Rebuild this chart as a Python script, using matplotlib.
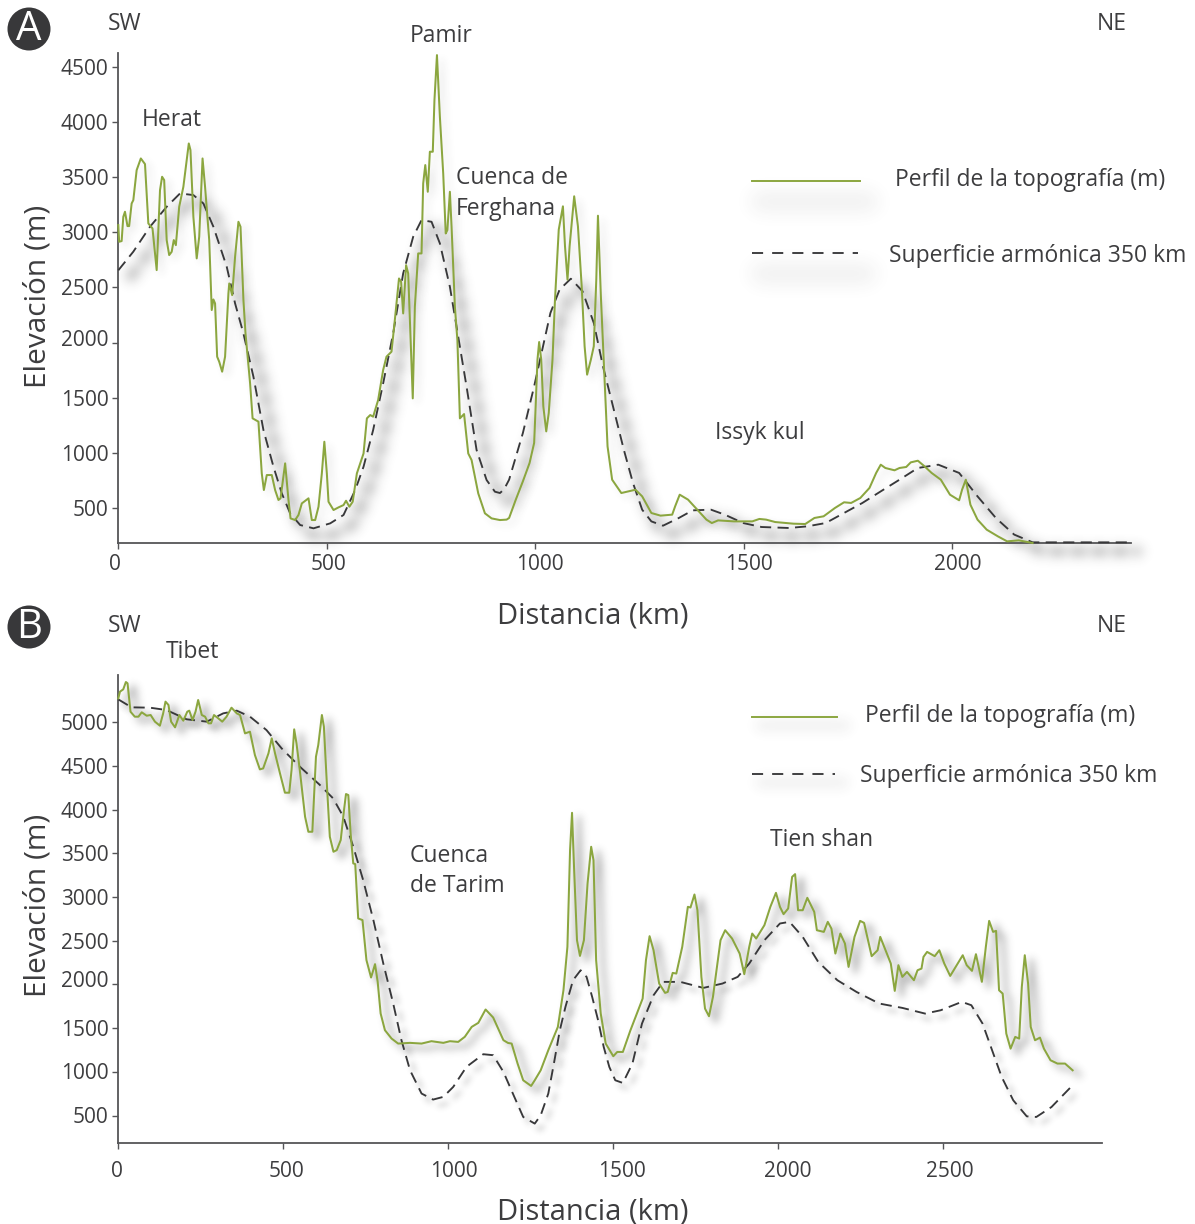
import matplotlib
matplotlib.use("Agg")
import numpy as np
import matplotlib.pyplot as plt
from matplotlib.lines import Line2D
from matplotlib.patches import Ellipse
from matplotlib.transforms import ScaledTranslation

plt.rcParams['font.family'] = ['Open Sans', 'DejaVu Sans']
plt.rcParams['lines.scale_dashes'] = False

W, H = 1195, 1224
INK = '#3d3d3f'
GREEN = '#8ba63f'
DASH = '#38383a'

# Panel A: topography
a_topo_km = [0,2,8,12,16,22,26,32,36,44,54,64,72,82,92,100,105,110,116,122,128,133,138,146,156,169,173,180,188,194,202,208,213,218,224,228,232,237,242,249,256,264,266,273,280,288,293,300,305,316,322,336,344,349,356,368,376,384,389,400,408,413,424,432,440,456,464,472,480,488,494,500,504,516,528,540,546,554,562,572,588,596,604,611,623,635,643,655,663,673,678,683,690,695,706,711,719,727,731,736,742,747,754,758,764,771,779,785,789,795,799,807,813,819,829,839,847,863,879,895,915,
             931,937,953,970,986,997,1000,1005,1009,1014,1019,1026,1032,1041,1047,1056,1066,1071,1077,1082,1093,1102,1111,1118,1124,1133,1140,1146,1150,1157,1166,1173,1184,1206,1223,1240,1256,1278,1300,1328,1335,1346,1366,1388,1410,1423,1438,1476,1520,1537,1553,1575,1619,1647,1669,1691,1718,1740,1757,1779,1801,1817,1828,1839,1861,1873,1889,1900,1917,1933,1950,1972,1994,2016,2023,2032,2043,2060,2082,2109,2131,2159,2192]
a_topo_m = [3065,2914,2920,3140,3186,3056,3056,3261,3291,3563,3669,3618,3080,3035,2657,3382,3503,3473,2929,2793,2823,2929,2883,3231,3412,3805,3745,3140,2763,2960,3669,3412,3170,2929,2295,2391,2355,1872,1826,1736,1872,2445,2536,2430,2778,3095,3050,2385,2083,1630,1313,1283,814,663,799,799,663,573,588,905,573,406,391,437,542,588,391,391,512,814,1101,814,557,482,506,527,566,512,557,814,995,1313,1343,1328,1479,1751,1872,1917,2204,2581,2551,2264,2702,2627,1494,2325,2808,2808,3443,3609,3367,3730,3730,4198,4606,4047,3533,2989,3020,3367,3050,2325,2022,1313,1352,995,935,633,452,406,391,
            395,410,576,742,908,1090,1362,1845,2005,1845,1422,1195,1362,1845,2389,3024,3235,2872,2570,2872,3326,3054,2510,1966,1709,1845,1966,2570,3150,2419,1664,1059,757,636,651,666,606,455,431,440,515,621,576,485,395,364,388,379,379,401,395,373,358,355,410,425,500,552,546,591,682,818,893,863,842,863,872,914,929,878,818,757,621,570,666,757,530,395,304,243,198,207,183]

# Panel A: harmonic surface
a_harm_km = [0,36,76,116,148,180,204,228,260,280,300,324,348,372,392,412,436,468,508,540,568,588,611,635,659,683,707,727,751,771,795,815,835,859,883,903,915,925,
             937,970,997,1036,1058,1085,1113,1140,1162,1190,1212,1234,1256,1278,1306,1344,1377,1421,1454,1498,1542,1608,1652,1696,1740,1784,1828,1873,1917,1966,2016,2060,2104,2148,2192,2428]
a_harm_m = [2655,2824,3050,3231,3352,3337,3261,3050,2687,2355,2083,1690,1207,875,633,452,346,316,361,437,663,875,1207,1630,2083,2627,2959,3110,3095,2899,2506,2053,1600,1026,754,648,636,670,
            757,1180,1603,2268,2480,2579,2465,2178,1785,1362,1029,727,485,379,340,410,479,485,440,364,328,319,334,364,455,546,651,757,863,893,818,606,410,259,189,189]

# Panel B: topography
b_topo_km = [0,5,15,23,28,37,50,61,71,86,98,111,126,136,143,152,160,172,185,197,209,215,225,234,242,253,263,273,281,290,303,315,328,343,359,369,384,399,414,429,439,455,465,475,490,505,518,525,533,540,550,566,576,588,599,606,617,623,633,641,652,662,674,684,690,697,704,712,718,727,740,752,766,778,786,795,808,828,848,884,919,949,985,1005,1030,1050,1071,1091,1113,1136,1167,
             1181,1192,1210,1227,1251,1262,1280,1303,1332,1349,1361,1369,1375,1381,1390,1399,1411,1422,1433,1440,1448,1462,1477,1500,1512,1529,1552,1589,1599,1610,1622,1639,1657,1665,1680,1691,1709,1726,1734,1746,1755,1767,1778,1790,1802,1825,1839,1860,1883,1897,1912,1921,1933,1958,1976,1993,2005,2016,2030,2042,2051,2060,2074,2088,2109,2117,2138,2150,2161,2173,2188,2202,2213,2231,2248,2260,2283,2301,2309,2329,2341,2353,2364,2376,2390,2411,2422,2434,2440,2451,2474,2488,2503,2521,2544,2559,2571,2587,2599,2617,2629,2639,2651,2660,2669,2680,2691,2704,2718,2730,2738,2747,2757,2765,2778,2793,2805,2825,2846,2869,2892]
b_topo_m = [5275,5351,5378,5462,5447,5122,5065,5065,5115,5076,5084,5008,4962,5103,5237,5199,5008,4943,5084,5019,5122,5134,5027,5122,5256,5084,5065,4989,4989,5084,5046,5008,5065,5168,5103,5084,4874,4893,4626,4462,4473,4645,4817,4645,4416,4195,4195,4454,4920,4760,4454,3920,3748,3748,4607,4741,5084,4951,4225,3691,3519,3538,3653,3996,4180,4168,3729,3386,3378,2756,2737,2279,2080,2233,2031,1668,1477,1382,1324,1332,1324,1351,1332,1351,1343,1401,1515,1561,1714,1622,1363,
            1331,1324,1095,904,839,904,1018,1247,1514,1934,2431,3537,3965,3347,2507,2327,2507,3156,3576,3423,2278,1667,1324,1179,1228,1228,1476,1839,2278,2553,2392,2011,1904,1915,2133,2125,2431,2889,2881,3030,2850,2087,1724,1637,1858,2507,2621,2526,2354,2118,2431,2583,2526,2679,2889,3049,2889,2805,2870,3232,3263,2850,2850,2992,2831,2621,2602,2717,2640,2354,2583,2469,2201,2545,2728,2705,2324,2392,2545,2354,2240,1927,2221,2087,2144,2049,2163,2182,2316,2373,2324,2392,2240,2098,2240,2335,2221,2156,2347,2030,2431,2728,2602,2614,1934,1896,1438,1266,1400,1381,1972,2335,2011,1514,1362,1392,1266,1133,1095,1095,1018]

# Panel B: harmonic surface
b_harm_km = [0,40,96,146,207,268,318,359,399,449,495,550,611,651,682,712,742,773,803,833,858,884,919,954,985,1015,1055,1106,1136,1167,
             1198,1227,1262,1280,1303,1320,1338,1355,1378,1401,1419,1436,1454,1471,1488,1506,1529,1558,1587,1622,1651,1703,1773,1831,1877,1912,1958,2005,2034,2074,2121,2179,2237,2306,2376,2445,2492,2556,2585,2619,2648,2677,2712,2753,2782,2828,2892]
b_harm_m = [5263,5172,5168,5141,5035,5008,5103,5134,5065,4912,4702,4493,4283,4130,3920,3577,3195,2737,2241,1783,1363,1019,752,683,714,828,1057,1202,1191,1000,
            732,484,408,503,751,1095,1476,1743,2049,2163,2087,1858,1591,1285,1056,904,873,1095,1553,1877,2030,2030,1961,2011,2087,2240,2507,2698,2717,2545,2259,2049,1915,1782,1732,1667,1705,1801,1763,1553,1247,942,675,491,484,598,847]

a_xticks = [0, 500, 1000, 1500, 2000]
a_yticks = [500, 1000, 1500, 2000, 2500, 3000, 3500, 4000, 4500]
b_xticks = [0, 500, 1000, 1500, 2000, 2500]
b_yticks = [500, 1000, 1500, 2000, 2500, 3000, 3500, 4000, 4500, 5000]

xlabel = 'Distancia (km)'
ylabel = 'Elevación (m)'
legend_topo = 'Perfil de la topografía (m)'
legend_harm = 'Superficie armónica 350 km'

fig = plt.figure(figsize=(W / 100, H / 100), dpi=100, facecolor='white')


def axes_px(left, right, top, bottom):
    return fig.add_axes([left / W, 1 - bottom / H, (right - left) / W, (bottom - top) / H])


def fx(p):
    return p / W


def fy(p):
    return 1 - p / H


def txt(x, y, s, size=16.5, ha='left', **kw):
    fig.text(fx(x), fy(y + 1.5), s, fontsize=size, ha=ha, va='center', color=INK, **kw)


def blur_filter(sigma, dx, dy, gain, grey=0.25):
    """Soft drop shadow: blurs the drawn line's coverage and shifts it."""
    r = int(3 * sigma) + 1
    k = np.exp(-0.5 * (np.arange(-r, r + 1) / sigma) ** 2)
    k /= k.sum()

    def apply(im, dpi):
        a = np.pad(im[..., 3], r, mode='constant')
        a = np.apply_along_axis(lambda v: np.convolve(v, k, mode='same'), 0, a)
        a = np.apply_along_axis(lambda v: np.convolve(v, k, mode='same'), 1, a)
        out = np.full(a.shape + (4,), grey, dtype=float)
        out[..., 3] = np.clip(a * gain, 0, 1)
        return out, -r + dx, -r - dy
    return apply


DASHES = (0, (8, 4.6))
KEY_DASHES = (0, (8, 6.5))


def with_shadow(ax, x, y, color, ls, lw, shadow_ls, shadow_lw, flt):
    sh, = ax.plot(x, y, color='black', lw=shadow_lw, ls=shadow_ls, zorder=1, clip_on=False)
    sh.set_agg_filter(flt)
    ax.plot(x, y, color=color, lw=lw, ls=ls, zorder=3, clip_on=False, solid_joinstyle='round')


def style(ax, xt, yt, x_off, y_off, xpad):
    for s in ('top', 'right'):
        ax.spines[s].set_visible(False)
    for s in ('left', 'bottom'):
        ax.spines[s].set_color('#555557')
        ax.spines[s].set_linewidth(1.3)
    ax.set_xticks(xt)
    ax.set_yticks(yt)
    ax.tick_params(axis='both', length=4, width=1, color='#555557', labelsize=15, labelcolor=INK, pad=3)
    ax.tick_params(axis='x', pad=xpad)
    for lab, d in zip(ax.get_xticklabels(), x_off):
        lab.set_transform(lab.get_transform() + ScaledTranslation(d / 100, 0, fig.dpi_scale_trans))
    for lab, d in zip(ax.get_yticklabels(), y_off):
        lab.set_transform(lab.get_transform() + ScaledTranslation(0, d / 100, fig.dpi_scale_trans))
    ax.patch.set_alpha(0)


# ---- Panel A
axA = axes_px(118.3, 1131, 53, 543)
axA.set_xlim(0, 2428)
axA.set_ylim(183, 4625)
with_shadow(axA, a_harm_km, a_harm_m, DASH, DASHES, 1.35, (0, (11, 4)), 5, blur_filter(6, 10, 9, 0.55))
with_shadow(axA, a_topo_km, a_topo_m, GREEN, '-', 1.45, '-', 1.5, blur_filter(4, 5, 4, 0.14))
style(axA, a_xticks, a_yticks, [-3, 2, 4, 5, 5], [0, 0, 0, 5, 0, 0, 0, 0, 0], 4)

# ---- Panel B
axB = axes_px(118.3, 1102, 675, 1143)
axB.set_xlim(0, 2981)
axB.set_ylim(186, 5542)
with_shadow(axB, b_harm_km, b_harm_m, DASH, DASHES, 1.35, DASHES, 2, blur_filter(3, 6, 6, 0.3))
with_shadow(axB, b_topo_km, b_topo_m, GREEN, '-', 1.45, '-', 3, blur_filter(4, 7, 5, 0.38))
style(axB, b_xticks, b_yticks, [-1, 3, 6, 9, 9, 7], [1, 1, 0, 5, 0, 0, 0, 0, 0, 0], 9)

# ---- Badges
for cy, letter in ((29, 'A'), (627, 'B')):
    fig.add_artist(Ellipse((fx(29), fy(cy)), 43 / W, 43 / H, transform=fig.transFigure,
                           facecolor='#38383a', edgecolor='none'))
    fig.text(fx(29), fy(cy + 1), letter, color='white', fontsize=29, ha='center', va='center')

# ---- Annotations
txt(125, 23, 'SW', ha='center')
txt(1112, 23, 'NE', ha='center')
txt(441, 34, 'Pamir', ha='center')
txt(172, 118, 'Herat', ha='center')
txt(456, 176, 'Cuenca de')
txt(456, 207, 'Ferghana')
txt(715, 431, 'Issyk kul')
txt(125, 625, 'SW', ha='center')
txt(1112, 625, 'NE', ha='center')
txt(192, 650, 'Tibet', ha='center')
txt(410, 855, 'Cuenca')
txt(410, 885, 'de Tarim')
txt(822, 839, 'Tien shan', ha='center')

txt(593, 615, xlabel, size=21, ha='center')
txt(593, 1210, xlabel, size=21, ha='center')
fig.text(fx(38), fy(296), ylabel, fontsize=21.5, color=INK, rotation=90, ha='center', va='center')
fig.text(fx(38), fy(905), ylabel, fontsize=21.5, color=INK, rotation=90, ha='center', va='center')


def legend_key(x0, x1, y, color, ls, lw, sh_dy, sh_lw, sigma, gain):
    sh = Line2D([fx(x0 + 8), fx(x1 + 8)], [fy(y), fy(y)], color='black', lw=sh_lw, solid_capstyle='round')
    sh.set_agg_filter(blur_filter(sigma, 0, sh_dy, gain))
    fig.add_artist(sh)
    fig.add_artist(Line2D([fx(x0), fx(x1)], [fy(y), fy(y)], color=color, lw=lw, ls=ls))


legend_key(752, 860, 181, GREEN, '-', 1.4, 20, 14, 9, 0.08)
txt(895, 178, legend_topo)
legend_key(752, 858, 253, DASH, KEY_DASHES, 1.35, 20, 14, 9, 0.08)
txt(889, 255, legend_harm)
legend_key(752, 837, 717, GREEN, '-', 1.4, 8, 8, 6, 0.08)
txt(865, 714, legend_topo)
legend_key(752, 835, 774, DASH, KEY_DASHES, 1.35, 8, 8, 6, 0.08)
txt(860, 775, legend_harm)

fig.savefig('out.png', dpi=100, facecolor='white')
